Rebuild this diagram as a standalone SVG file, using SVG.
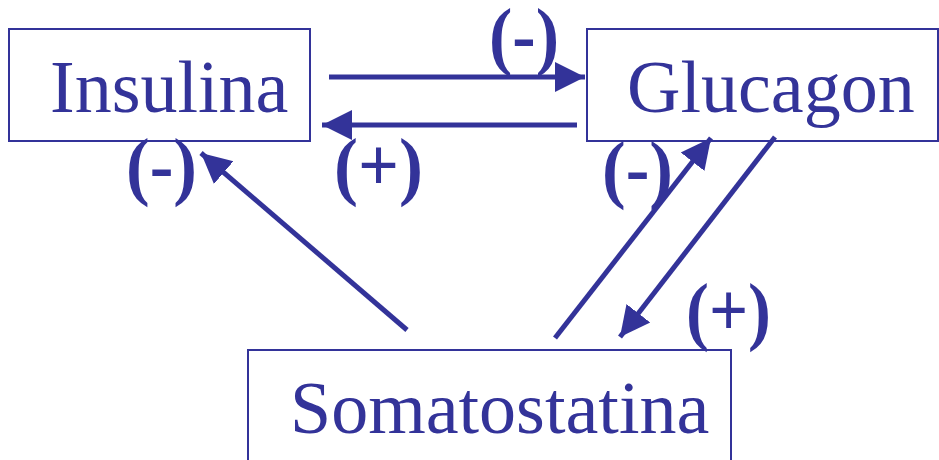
<svg xmlns="http://www.w3.org/2000/svg" width="939" height="460" viewBox="0 0 939 460">
<style>
.box{fill:#fff;stroke:#333399;stroke-width:2}
.t{font-family:"Liberation Serif","Times New Roman",serif;font-size:74px;fill:#333399}
.l{font-family:"Liberation Serif","Times New Roman",serif;font-size:76px;font-weight:bold;fill:#333399}
.c{stroke:#333399;stroke-width:5;fill:none}
</style>
<defs>
<marker id="ah" markerUnits="userSpaceOnUse" markerWidth="32" markerHeight="32" refX="30" refY="15" orient="auto" viewBox="0 0 32 30">
<path d="M0,0 L30,15 L0,30 Z" fill="#333399"/>
</marker>
</defs>
<rect width="939" height="460" fill="#fff"/>
<g id="insulina">
<rect class="box" x="9" y="29" width="301" height="112"/>
<text class="t" x="50" y="112">Insulina</text>
</g>
<g id="glucagon">
<rect class="box" x="587" y="29" width="351" height="112"/>
<text class="t" x="627" y="112">Glucagon</text>
</g>
<g id="somatostatina">
<rect class="box" x="248" y="350" width="483" height="120"/>
<text class="t" x="290" y="433">Somatostatina</text>
</g>
<g id="connectors">
<line class="c" x1="329" y1="77" x2="585" y2="77" marker-end="url(#ah)"/>
<line class="c" x1="577" y1="125" x2="322" y2="125" marker-end="url(#ah)"/>
<line class="c" x1="407" y1="330" x2="201" y2="153" marker-end="url(#ah)"/>
<line class="c" x1="555" y1="338" x2="711" y2="138" marker-end="url(#ah)"/>
<line class="c" x1="775" y1="137" x2="620" y2="337" marker-end="url(#ah)"/>
</g>
<g id="labels">
<text class="l" x="489" y="61" textLength="70" lengthAdjust="spacingAndGlyphs">(-)</text>
<text class="l" x="126" y="191" textLength="71" lengthAdjust="spacingAndGlyphs">(-)</text>
<text class="l" x="334" y="191" textLength="89" lengthAdjust="spacingAndGlyphs">(+)</text>
<text class="l" x="602" y="194" textLength="71" lengthAdjust="spacingAndGlyphs">(-)</text>
<text class="l" x="686" y="336" textLength="85" lengthAdjust="spacingAndGlyphs">(+)</text>
</g>
</svg>
